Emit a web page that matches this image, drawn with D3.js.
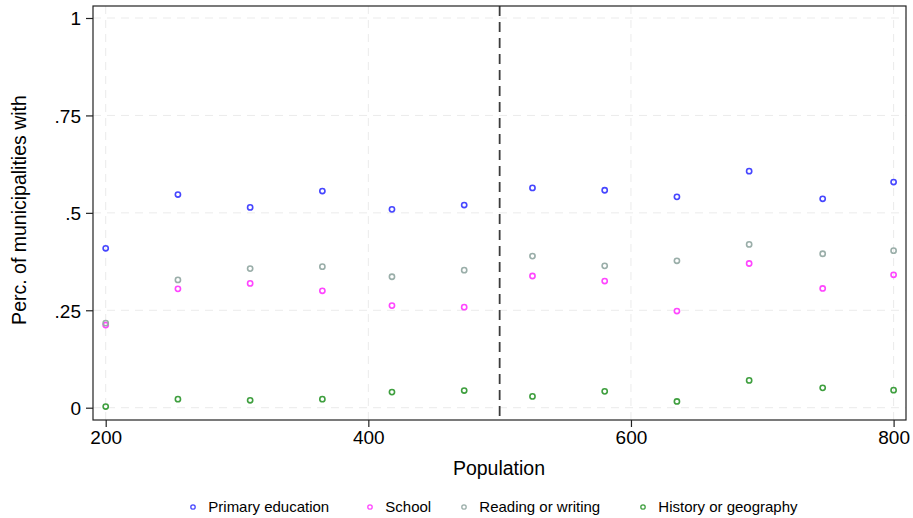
<!DOCTYPE html>
<html lang="en">
  <head>
    <meta charset="UTF-8" />
    <title>Perc. of municipalities by population</title>
    <script src="https://d3js.org/d3.v7.min.js"></script>
    <style>
      body {
        margin: 0;
        background: #fff;
        font-family: 'Liberation Sans', Arial, Helvetica, sans-serif;
      }
      .grid line {
        stroke: #ebebeb;
        stroke-width: 1px;
        stroke-dasharray: 8 6;
      }
      .tick text {
        font-size: 19px;
        fill: #000;
      }
    </style>
  </head>
  <body>
    <div id="chart"></div>
    <script>
      // population bins
      const population = [200, 255, 310, 365, 418, 473, 525, 580, 635, 690, 746, 800];

      const primaryEducation = [0.409, 0.547, 0.514, 0.556, 0.509, 0.52, 0.564, 0.558, 0.541, 0.607, 0.536, 0.579];
      const school = [0.212, 0.305, 0.319, 0.3, 0.262, 0.258, 0.338, 0.325, 0.248, 0.37, 0.306, 0.341];
      const readingWriting = [0.217, 0.328, 0.357, 0.362, 0.336, 0.353, 0.389, 0.364, 0.377, 0.419, 0.395, 0.403];
      const historyGeography = [0.003, 0.022, 0.019, 0.022, 0.04, 0.044, 0.029, 0.042, 0.016, 0.07, 0.051, 0.045];

      const seriesNames = ['Primary education', 'School', 'Reading or writing', 'History or geography'];
      const seriesColors = ['#4646ff', '#ff46ff', '#9aaea9', '#3f9f3f'];
      const seriesValues = [primaryEducation, school, readingWriting, historyGeography];

      const xTicks = [200, 400, 600, 800];
      const yTicks = [0, 0.25, 0.5, 0.75, 1];
      const yTickLabels = ['0', '.25', '.5', '.75', '1'];
      const cutoff = 500;

      const width = 913;
      const height = 518;

      // plot frame
      const frame = { left: 93, top: 6, right: 906, bottom: 420 };

      const x = d3.scaleLinear().domain([200, 800]).range([105.7, 893.6]);
      const y = d3.scaleLinear().domain([0, 1]).range([407.7, 18]);

      const svg = d3
        .select('#chart')
        .append('svg')
        .attr('width', width)
        .attr('height', height);

      // gridlines
      const grid = svg.append('g').attr('class', 'grid');
      grid
        .selectAll('.gx')
        .data(xTicks)
        .join('line')
        .attr('x1', (d) => x(d))
        .attr('x2', (d) => x(d))
        .attr('y1', frame.top)
        .attr('y2', frame.bottom);
      grid
        .selectAll('.gy')
        .data(yTicks)
        .join('line')
        .attr('x1', frame.left)
        .attr('x2', frame.right)
        .attr('y1', (d) => y(d))
        .attr('y2', (d) => y(d));

      // cutoff line
      svg
        .append('line')
        .attr('x1', x(cutoff))
        .attr('x2', x(cutoff))
        .attr('y1', frame.top)
        .attr('y2', frame.bottom)
        .attr('stroke', '#3c3c3c')
        .attr('stroke-width', 1.8)
        .attr('stroke-dasharray', '10 6');

      // frame
      svg
        .append('rect')
        .attr('x', frame.left)
        .attr('y', frame.top)
        .attr('width', frame.right - frame.left)
        .attr('height', frame.bottom - frame.top)
        .attr('fill', 'none')
        .attr('stroke', '#222')
        .attr('stroke-width', 1.2);

      // axes
      const xAxis = svg
        .append('g')
        .attr('transform', `translate(0,${frame.bottom})`)
        .call(d3.axisBottom(x).tickValues(xTicks).tickSize(7).tickPadding(4));
      const yAxis = svg
        .append('g')
        .attr('transform', `translate(${frame.left},0)`)
        .call(
          d3
            .axisLeft(y)
            .tickValues(yTicks)
            .tickFormat((d, i) => yTickLabels[i])
            .tickSize(7)
            .tickPadding(5)
        );
      [xAxis, yAxis].forEach((a) => {
        a.select('.domain').remove();
        a.selectAll('.tick line').attr('stroke', '#222').attr('stroke-width', 1.2);
        a.selectAll('.tick text').attr('font-family', 'Liberation Sans, Arial, sans-serif');
      });
      yAxis.selectAll('.tick text').attr('dy', '0.36em');

      // axis titles
      svg
        .append('text')
        .attr('x', 499)
        .attr('y', 475)
        .attr('text-anchor', 'middle')
        .attr('font-size', 19.5)
        .text('Population');
      svg
        .append('text')
        .attr('transform', 'translate(26,210) rotate(-90)')
        .attr('text-anchor', 'middle')
        .attr('font-size', 19.5)
        .text('Perc. of municipalities with');

      // points
      seriesValues.forEach((vals, s) => {
        svg
          .append('g')
          .selectAll('circle')
          .data(vals)
          .join('circle')
          .attr('cx', (d, i) => x(population[i]))
          .attr('cy', (d) => y(d))
          .attr('r', 2.6)
          .attr('fill', 'none')
          .attr('stroke', seriesColors[s])
          .attr('stroke-width', 1.6);
      });

      // legend
      const legendX = [193, 370, 464, 643];
      const legend = svg
        .append('g')
        .selectAll('g')
        .data(seriesNames)
        .join('g')
        .attr('transform', (d, i) => `translate(${legendX[i]},507)`);
      legend
        .append('circle')
        .attr('r', 2.2)
        .attr('fill', 'none')
        .attr('stroke', (d, i) => seriesColors[i])
        .attr('stroke-width', 1.3);
      legend
        .append('text')
        .attr('x', 15.3)
        .attr('dy', '0.36em')
        .attr('font-size', 15)
        .text((d) => d);
    </script>
  </body>
</html>
